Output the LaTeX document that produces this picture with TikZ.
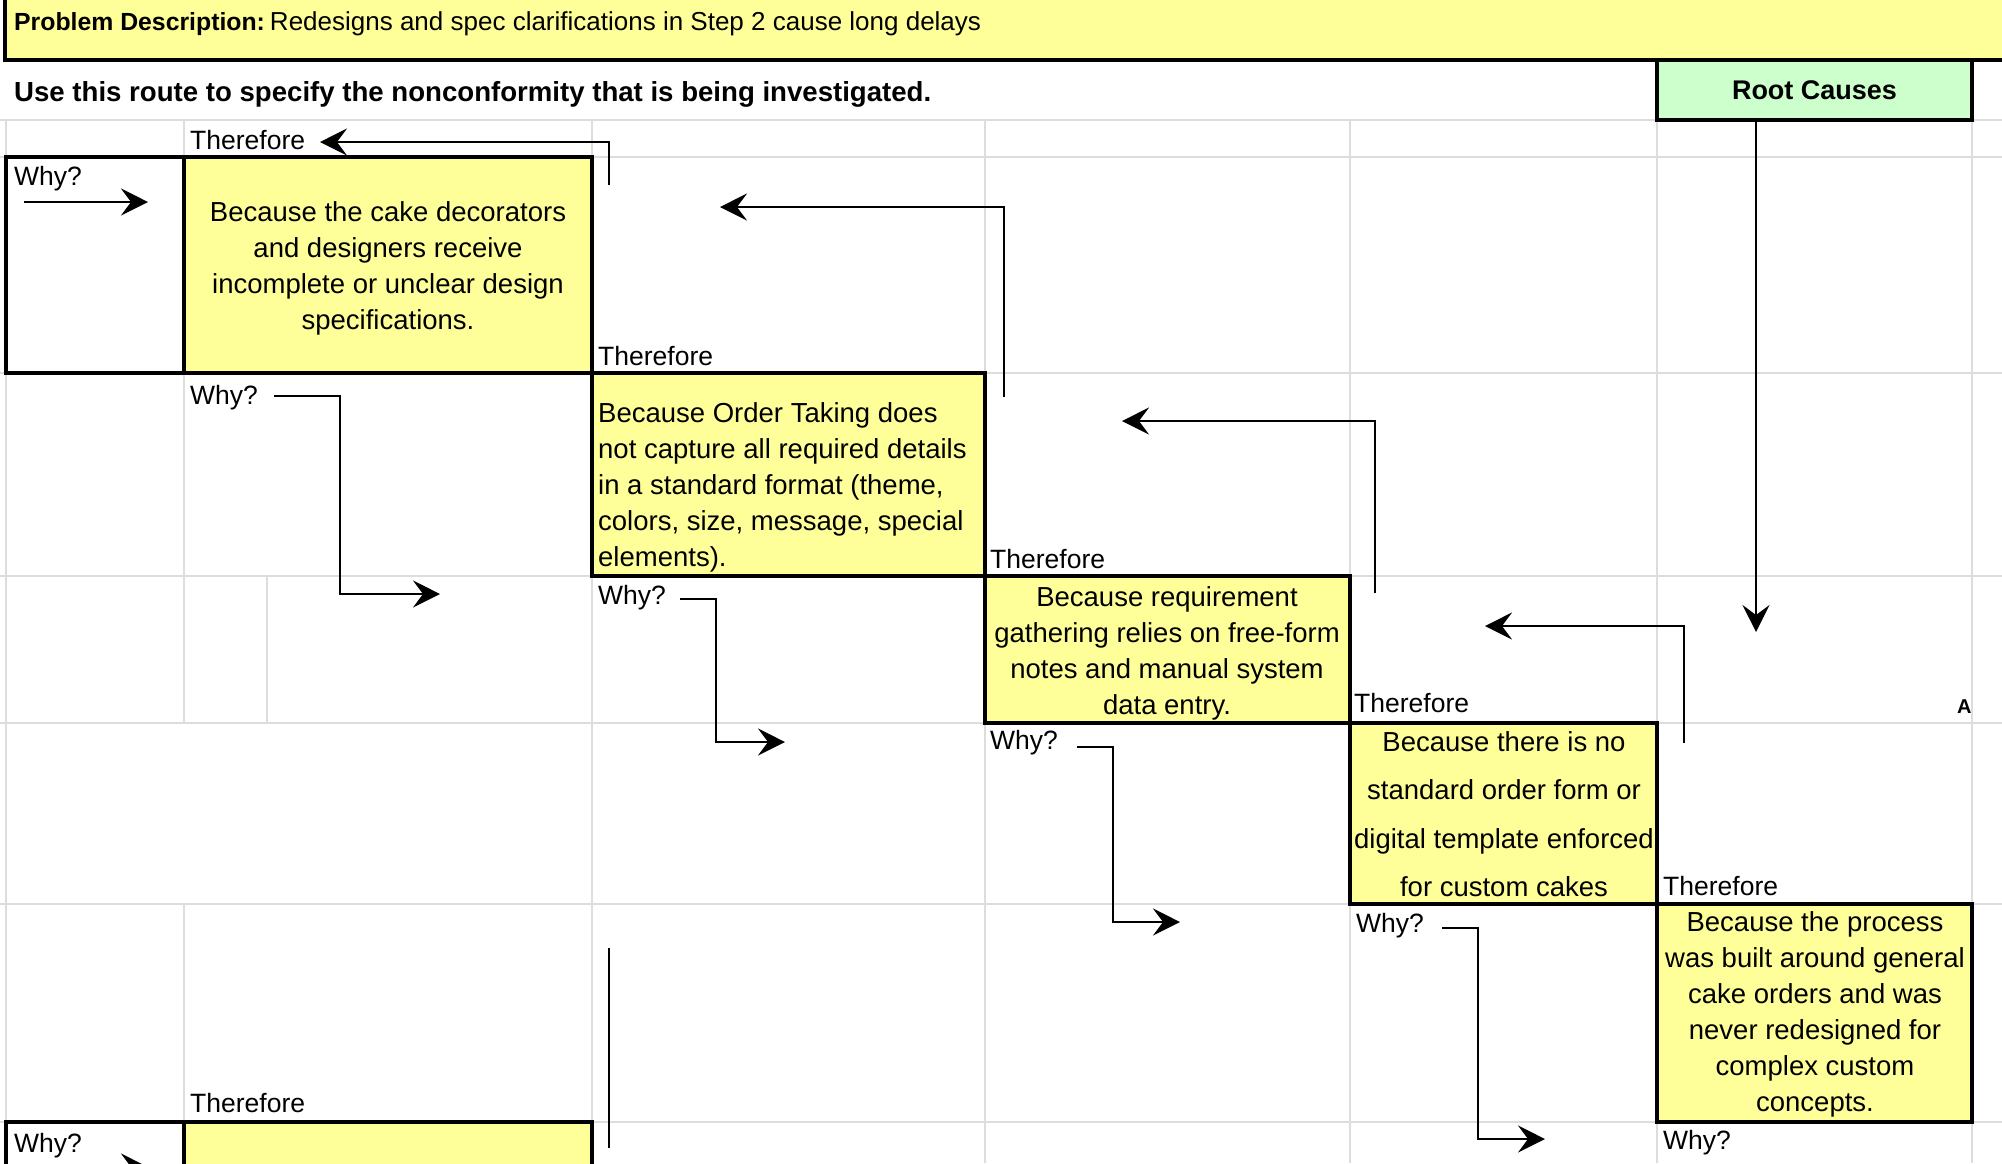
\documentclass[tikz,border=0pt]{standalone}
\usepackage{fontspec}
\setmainfont{Liberation Sans}
\usetikzlibrary{arrows.meta}
\definecolor{cellyellow}{HTML}{FFFF99}
\definecolor{rootgreen}{HTML}{CCFFCC}
\definecolor{gridgray}{HTML}{DDDDDD}
\newcommand{\lblfont}{\fontsize{26.5}{32}\selectfont}
\newcommand{\boxfont}{\fontsize{27.5}{36}\selectfont}
\newcommand{\boxfontwide}{\fontsize{27.5}{48.5}\selectfont}
\begin{document}
\begin{tikzpicture}[x=1pt,y=-1pt,
  gridline/.style={draw=gridgray,line width=1.5pt},
  cellbox/.style={draw=black,line width=3.5pt,inner sep=0pt,outer sep=0pt,anchor=north west},
  ybox/.style={cellbox,fill=cellyellow},
  wbox/.style={cellbox,fill=white},
  conn/.style={draw=black,line width=2pt},
  arr/.style={conn,-{Stealth[length=27pt,width=27pt,inset=10pt]}},
  lbl/.style={inner sep=0pt,anchor=base west,font=\lblfont},
  btxt/.style={inner sep=0pt,anchor=base},
  btxtl/.style={inner sep=0pt,anchor=base west},
]
\useasboundingbox (0,0) rectangle (2002,1163);
\clip (0,0) rectangle (2002,1163);
\fill[white] (0,0) rectangle (2002,1163);
% grid
\foreach \yy in {120,157,373,576,723,904,1122} \draw[gridline] (0,\yy) -- (2002,\yy);
\draw[gridline] (6,120) -- (6,1163);
\draw[gridline] (184,120) -- (184,723);
\draw[gridline] (184,904) -- (184,1163);
\draw[gridline] (267,576) -- (267,723);
\foreach \xx in {592,985,1350,1657,1972} \draw[gridline] (\xx,120) -- (\xx,1163);
% header
\node[ybox,minimum width=2010pt,minimum height=65pt] (hdr) at (5,-5) {};
\node[inner sep=0pt,anchor=base west,font=\fontsize{26}{30}\selectfont] (hdrtxt) at (14,30)
  {{\fontsize{24.8}{30}\selectfont\bfseries Problem Description:}\hspace{5pt}Redesigns and spec clarifications in Step 2 cause long delays};
\node[inner sep=0pt,anchor=base west,font=\fontsize{27.6}{32}\selectfont\bfseries] (route) at (14,101)
  {Use this route to specify the nonconformity that is being investigated.};
\node[cellbox,fill=rootgreen,minimum width=315pt,minimum height=60pt,font=\fontsize{27}{32}\selectfont\bfseries] (root) at (1657,60) {Root Causes};
\node[inner sep=0pt,anchor=base west,font=\fontsize{20}{24}\selectfont\bfseries] (amark) at (1957,713) {A};
% boxes
\node[wbox,minimum width=178pt,minimum height=216pt] (w1) at (6,157) {};
\node[ybox,minimum width=408pt,minimum height=216pt] (b1) at (184,157) {};
\node[ybox,minimum width=393pt,minimum height=203pt] (b2) at (592,373) {};
\node[ybox,minimum width=365pt,minimum height=147pt] (b3) at (985,576) {};
\node[ybox,minimum width=307pt,minimum height=181pt] (b4) at (1350,723) {};
\node[ybox,minimum width=315pt,minimum height=218pt] (b5) at (1657,904) {};
\node[wbox,minimum width=178pt,minimum height=60pt] (w6) at (6,1122) {};
\node[ybox,minimum width=408pt,minimum height=60pt] (b6) at (184,1122) {};
% box texts
\node[btxt] (t1) at (388,221) {\parbox[t]{400pt}{\boxfont\centering
  Because the cake decorators\\and designers receive\\incomplete or unclear design\\specifications.}};
\node[btxtl] (t2) at (598,422) {\parbox[t]{390pt}{\boxfont\raggedright
  Because Order Taking does\\not capture all required details\\in a standard format (theme,\\colors, size, message, special\\elements).}};
\node[btxt] (t3) at (1167,606) {\parbox[t]{360pt}{\boxfont\centering
  Because requirement\\gathering relies on free-form\\notes and manual system\\data entry.}};
\node[btxt] (t4) at (1504,751) {\parbox[t]{320pt}{\boxfontwide\centering
  Because there is no\\standard order form or\\digital template enforced\\for custom cakes}};
\node[btxt] (t5) at (1815,931) {\parbox[t]{320pt}{\boxfont\centering
  Because the process\\was built around general\\cake orders and was\\never redesigned for\\complex custom\\concepts.}};
% labels
\node[lbl] (th1) at (190,149) {Therefore};
\node[lbl] (th2) at (598,365) {Therefore};
\node[lbl] (th3) at (990,568) {Therefore};
\node[lbl] (th4) at (1354,712) {Therefore};
\node[lbl] (th5) at (1663,895) {Therefore};
\node[lbl] (th6) at (190,1112) {Therefore};
\node[lbl] (wy1) at (14,185) {Why?};
\node[lbl] (wy2) at (190,404) {Why?};
\node[lbl] (wy3) at (598,604) {Why?};
\node[lbl] (wy4) at (990,749) {Why?};
\node[lbl] (wy5) at (1356,932) {Why?};
\node[lbl] (wy6) at (1663,1149) {Why?};
\node[lbl] (wy7) at (14,1152) {Why?};
% connector points
\coordinate (a1s) at (609,185);  \coordinate (a1e) at (320,142);
\coordinate (a2s) at (1004,397); \coordinate (a2e) at (720,207);
\coordinate (a3s) at (1375,593); \coordinate (a3e) at (1122,421);
\coordinate (a4s) at (1684,743); \coordinate (a4e) at (1485,626);
\coordinate (rs) at (1756,120);  \coordinate (re) at (1756,632);
\coordinate (v1s) at (24,202);   \coordinate (v1e) at (148,202);
\coordinate (v2s) at (274,396);  \coordinate (v2k) at (340,396);  \coordinate (v2e) at (440,594);
\coordinate (v3s) at (680,599);  \coordinate (v3k) at (716,599);  \coordinate (v3e) at (785,742);
\coordinate (v4s) at (1077,747); \coordinate (v4k) at (1113,747); \coordinate (v4e) at (1180,922);
\coordinate (v5s) at (1442,928); \coordinate (v5k) at (1478,928); \coordinate (v5e) at (1545,1139);
\coordinate (v6s) at (24,1167);  \coordinate (v6e) at (148,1167);
\coordinate (ls) at (609,948);   \coordinate (le) at (609,1148);
% connectors
\draw[arr] (a1s) |- (a1e);
\draw[arr] (a2s) |- (a2e);
\draw[arr] (a3s) |- (a3e);
\draw[arr] (a4s) |- (a4e);
\draw[arr] (rs) -- (re);
\draw[arr] (v1s) -- (v1e);
\draw[arr] (v2s) -- (v2k) |- (v2e);
\draw[arr] (v3s) -- (v3k) |- (v3e);
\draw[arr] (v4s) -- (v4k) |- (v4e);
\draw[arr] (v5s) -- (v5k) |- (v5e);
\draw[arr] (v6s) -- (v6e);
\draw[conn] (ls) -- (le);
\end{tikzpicture}
\end{document}
